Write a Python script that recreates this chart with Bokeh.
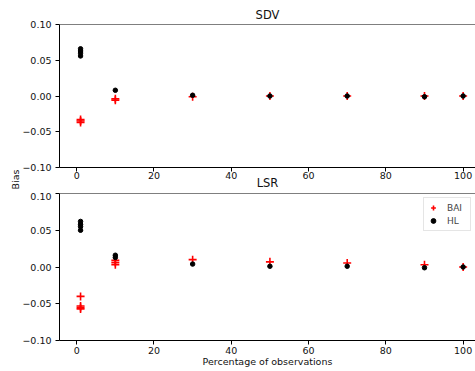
from bokeh.plotting import figure
from bokeh.layouts import column
from bokeh.models import (Range1d, FixedTicker, CustomJSTickFormatter, Span,
                          Legend, LegendItem, Title)
from bokeh.embed import file_html
from bokeh.resources import INLINE

# ---- data ----
sdv_bai_x = [1, 1, 1, 10, 10, 30, 50, 70, 90, 100]
sdv_bai_y = [-0.033, -0.035, -0.037, -0.004, -0.006, -0.001, 0.000, 0.000, 0.000, 0.000]
sdv_hl_x = [1, 1, 1, 1, 10, 30, 50, 70, 90, 100]
sdv_hl_y = [0.066, 0.063, 0.060, 0.056, 0.008, 0.001, 0.000, 0.000, -0.001, 0.000]

lsr_bai_x = [1, 1, 1, 1, 10, 10, 10, 30, 50, 70, 90, 100]
lsr_bai_y = [-0.040, -0.053, -0.055, -0.057, 0.009, 0.006, 0.003, 0.010, 0.007, 0.0055, 0.003, 0.000]
lsr_hl_x = [1, 1, 1, 1, 10, 10, 30, 50, 70, 90, 100]
lsr_hl_y = [0.062, 0.058, 0.055, 0.050, 0.016, 0.013, 0.004, 0.001, 0.001, -0.001, 0.000]

x_ticks = [0, 20, 40, 60, 80, 100]
y_ticks = [-0.10, -0.05, 0.00, 0.05, 0.10]
titles = ["SDV", "LSR"]
series_names = ["BAI", "HL"]
x_label = "Percentage of observations"
y_label = "Bias"

FONT = "DejaVu Sans"
X0, X1 = -4.45, 103.2
Y0, Y1 = -0.10, 0.10


def make_fig(height, top, bottom):
    p = figure(width=475, height=height, output_backend="svg", toolbar_location=None,
               x_range=Range1d(X0, X1), y_range=Range1d(Y0, Y1),
               min_border_left=59, min_border_right=0, min_border_top=top,
               min_border_bottom=bottom)
    p.outline_line_color = None
    p.xgrid.visible = False
    p.ygrid.visible = False
    p.background_fill_color = "white"
    p.border_fill_color = "white"
    for ax in (p.xaxis[0], p.yaxis[0]):
        ax.axis_line_color = "black"
        ax.axis_line_width = 1
        ax.major_tick_out = 4
        ax.major_tick_in = 0
        ax.minor_tick_line_color = None
        ax.major_tick_line_color = "black"
        ax.major_label_text_font = FONT
        ax.major_label_text_font_size = "9.5px"
        ax.major_label_text_color = "#111111"
        ax.axis_label_text_font = FONT
        ax.axis_label_text_font_style = "normal"
        ax.axis_label_text_color = "#111111"
    p.xaxis[0].ticker = FixedTicker(ticks=x_ticks)
    p.xaxis[0].major_label_standoff = 2
    p.yaxis[0].ticker = FixedTicker(ticks=y_ticks)
    p.yaxis[0].major_label_standoff = 4
    p.yaxis[0].formatter = CustomJSTickFormatter(
        code="return tick.toFixed(2).replace('-', '\\u2212');")
    p.add_layout(Span(location=Y1, dimension="width", line_color="black", line_width=1))
    return p


p1 = make_fig(192, 24, 24)
p2 = make_fig(179, 1, 31)

# SDV as the title of the upper panel
p1.title = Title(text=titles[0], align="center", text_font=FONT, text_font_size="11.5px",
                 text_font_style="normal", text_color="#111111", standoff=5)

# LSR sits in the gap under the upper panel's tick labels
p1.xaxis[0].major_label_standoff = 0
p1.xaxis[0].axis_label = titles[1]
p1.xaxis[0].axis_label_text_font_size = "11.5px"
p1.xaxis[0].axis_label_standoff = -6

# shared y label, in the gap between the panels
p1.add_layout(Title(text=y_label, align="left", offset=-22, standoff=-3, text_font=FONT,
                    text_font_size="9.5px", text_font_style="normal",
                    text_color="#111111"), "left")

# x label
p2.xaxis[0].axis_label = x_label
p2.xaxis[0].axis_label_text_font_size = "9.5px"
p2.xaxis[0].axis_label_standoff = -1

for p, bx, by, hx, hy in [(p1, sdv_bai_x, sdv_bai_y, sdv_hl_x, sdv_hl_y),
                          (p2, lsr_bai_x, lsr_bai_y, lsr_hl_x, lsr_hl_y)]:
    rb = p.scatter(bx, by, marker="cross", size=8, line_color="red", line_width=1.6)
    rh = p.scatter(hx, hy, marker="circle", size=4.5, fill_color="black", line_color="black")
    if p is p2:
        leg = Legend(items=[LegendItem(label=series_names[0], renderers=[rb]),
                            LegendItem(label=series_names[1], renderers=[rh])],
                     location="top_right")
        leg.margin = 4
        leg.padding = 3
        leg.spacing = 0
        leg.glyph_width = 12
        leg.glyph_height = 13
        leg.label_height = 13
        leg.label_standoff = 8
        leg.label_text_font = FONT
        leg.label_text_font_size = "9px"
        leg.border_line_color = "#cccccc"
        leg.border_line_width = 1
        leg.background_fill_alpha = 0.8
        p.add_layout(leg)

layout = column(p1, p2)
open("out.html", "w").write(file_html(layout, INLINE))
